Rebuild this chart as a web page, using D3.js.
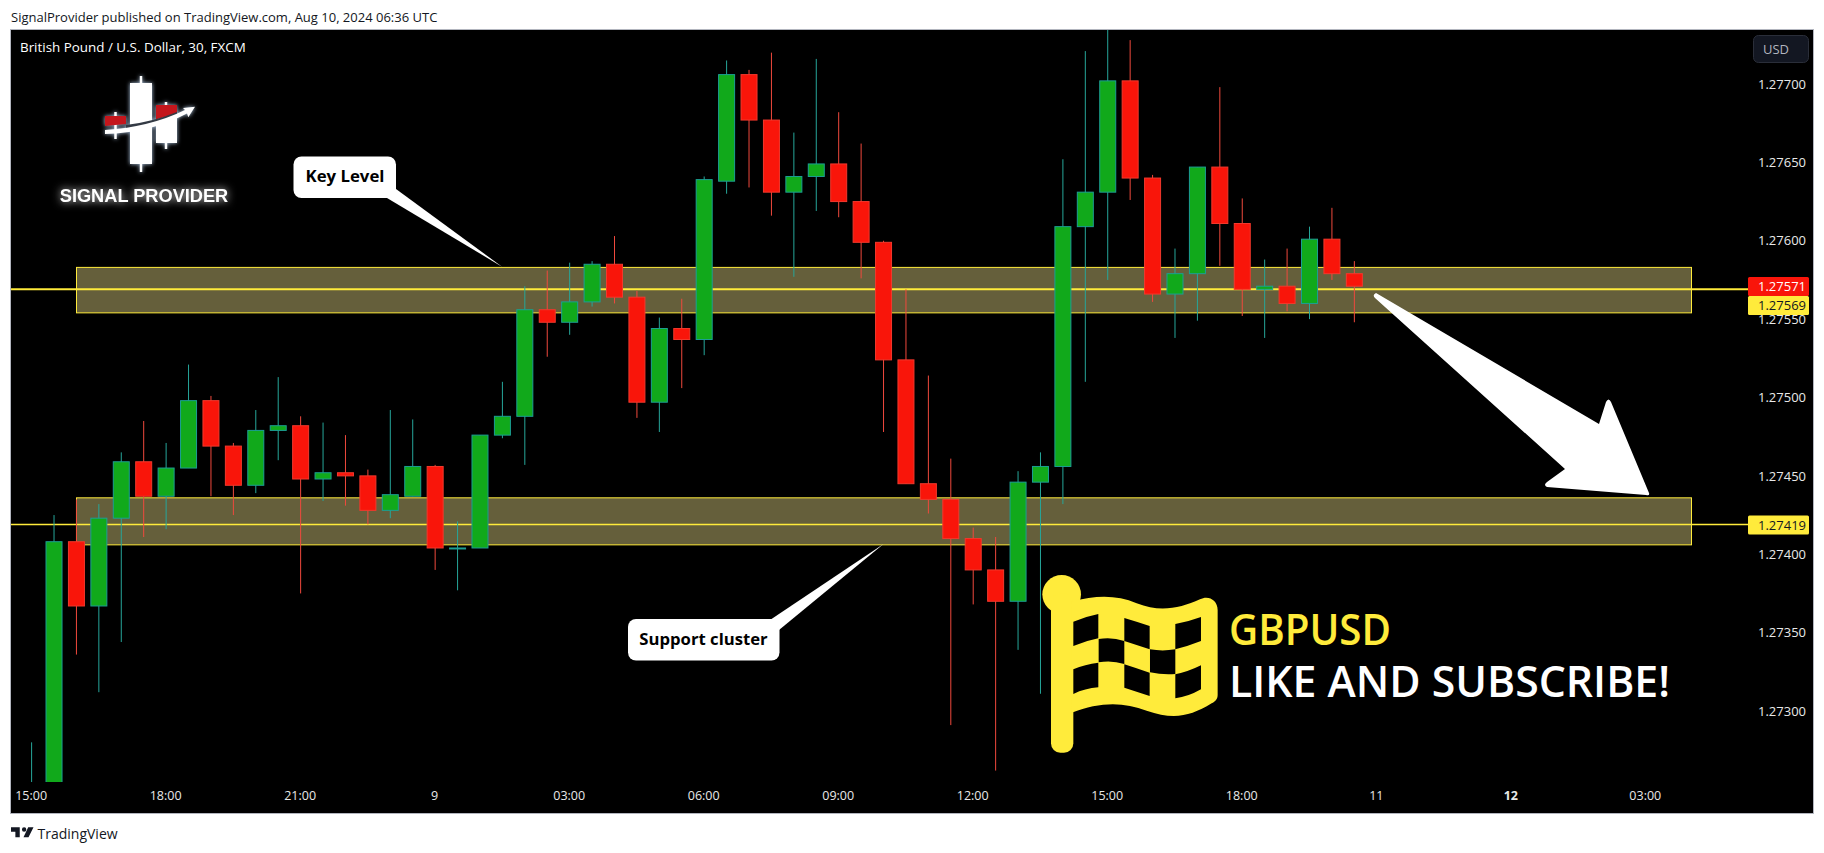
<!DOCTYPE html>
<html lang="en">
<head>
<meta charset="utf-8" />
<title>GBPUSD 30</title>
<script src="https://d3js.org/d3.v7.min.js"></script>
<style>
    html, body { margin: 0; padding: 0; background: #fff; }
    svg { display: block; }
    text { font-family: "Open Sans", sans-serif; }
</style>
</head>
<body>
<svg id="chart" width="1824" height="853"></svg>
<script>
// candles, one per 30 minutes
const opens = [1.27230,1.27250,1.27408,1.27367,1.27423,1.27459,1.27437,1.27455,1.27498,1.27469,
    1.27444,1.27479,1.27482,1.27448,1.27452,1.27450,1.27428,1.27437,1.27456,1.27404,
    1.27404,1.27476,1.27488,1.27556,1.27548,1.27561,1.27585,1.27564,1.27497,1.27544,
    1.27537,1.27638,1.27706,1.27677,1.27631,1.27641,1.27649,1.27625,1.27599,1.27524,
    1.27445,1.27435,1.27410,1.27390,1.27370,1.27446,1.27456,1.27609,1.27631,1.27702,
    1.27640,1.27566,1.27579,1.27647,1.27611,1.27569,1.27571,1.27560,1.27601,1.27579];
const closes = [1.27250,1.27408,1.27367,1.27423,1.27459,1.27437,1.27455,1.27498,1.27469,1.27444,
    1.27479,1.27482,1.27448,1.27452,1.27450,1.27428,1.27438,1.27456,1.27404,1.27404,
    1.27476,1.27488,1.27556,1.27548,1.27561,1.27585,1.27564,1.27497,1.27544,1.27537,
    1.27639,1.27706,1.27677,1.27631,1.27641,1.27649,1.27625,1.27599,1.27524,1.27445,
    1.27435,1.27410,1.27390,1.27370,1.27446,1.27456,1.27609,1.27631,1.27702,1.27640,
    1.27566,1.27579,1.27647,1.27611,1.27569,1.27571,1.27560,1.27601,1.27579,1.27571];
const highs = [1.27280,1.27425,1.27435,1.27432,1.27465,1.27485,1.27471,1.27521,1.27501,1.27471,
    1.27492,1.27513,1.27488,1.27484,1.27476,1.27454,1.27492,1.27486,1.27457,1.27421,
    1.27476,1.27510,1.27571,1.27581,1.27586,1.27587,1.27603,1.27568,1.27551,1.27563,
    1.27641,1.27715,1.27709,1.27720,1.27669,1.27716,1.27682,1.27662,1.27600,1.27569,
    1.27514,1.27461,1.27417,1.27411,1.27453,1.27465,1.27652,1.27721,1.27740,1.27728,
    1.27642,1.27595,1.27647,1.27698,1.27627,1.27588,1.27595,1.27609,1.27621,1.27587];
const lows = [1.27220,1.27240,1.27336,1.27312,1.27344,1.27411,1.27416,1.27455,1.27437,1.27425,
    1.27439,1.27460,1.27375,1.27434,1.27431,1.27419,1.27423,1.27437,1.27390,1.27377,
    1.27404,1.27474,1.27457,1.27526,1.27540,1.27558,1.27560,1.27487,1.27478,1.27506,
    1.27527,1.27630,1.27634,1.27616,1.27577,1.27619,1.27615,1.27576,1.27478,1.27445,
    1.27426,1.27291,1.27368,1.27262,1.27339,1.27311,1.27432,1.27510,1.27575,1.27626,
    1.27561,1.27538,1.27549,1.27584,1.27552,1.27538,1.27555,1.27550,1.27575,1.27548];

const priceTicks = [1.27700,1.27650,1.27600,1.27550,1.27500,1.27450,1.27400,1.27350,1.27300];
const timeTicks = [0,6,12,18,24,30,36,42,48,54,60,66,72];
const timeLabels = ["15:00","18:00","21:00","9","03:00","06:00","09:00","12:00","15:00","18:00","11","12","03:00"];

// zones and levels drawn on the chart
const zoneTops = [1.27583,1.27436];
const zoneBottoms = [1.27554,1.27406];
const levelPrices = [1.27569,1.27419];
const lastPrice = 1.27571;

const svg = d3.select("#chart");
const plot = { left: 11, right: 1748, top: 30, bottom: 782, frameRight: 1813, frameBottom: 813 };

const x = d3.scaleLinear().domain([0, 72]).range([31.6, 1645.8]);
const y = d3.scaleLinear().domain([1.273, 1.277]).range([711, 84]);
const bodyW = 16;
const GREEN = "#11a91b", GREEN_EDGE = "#1c9e94", GREEN_WICK = "#26a69a";
const RED = "#f9150a", RED_EDGE = "#f2392d", RED_WICK = "#f0493d";
const YELLOW = "#ffeb3b";

// frame
svg.append("rect")
    .attr("x", plot.left - 0.5).attr("y", plot.top - 0.5)
    .attr("width", plot.frameRight - plot.left + 1).attr("height", plot.frameBottom - plot.top + 1)
    .attr("fill", "#000").attr("stroke", "#b2b5be");

svg.append("text").attr("x", 11).attr("y", 22)
    .attr("font-size", 13).attr("fill", "#131722")
    .text("SignalProvider published on TradingView.com, Aug 10, 2024 06:36 UTC");

svg.append("defs").append("clipPath").attr("id", "plotClip").append("rect")
    .attr("x", plot.left).attr("y", plot.top)
    .attr("width", plot.right - plot.left).attr("height", plot.bottom - plot.top);

const chart = svg.append("g").attr("clip-path", "url(#plotClip)");

// level lines under the zones
chart.selectAll(".level").data(levelPrices).join("line")
    .attr("class", "level")
    .attr("x1", plot.left).attr("x2", plot.right)
    .attr("y1", d => y(d)).attr("y2", d => y(d))
    .attr("stroke", YELLOW).attr("stroke-width", (d, i) => i ? 1.5 : 2);

chart.selectAll(".zone").data(zoneTops).join("rect")
    .attr("class", "zone")
    .attr("x", 76.5).attr("width", 1615)
    .attr("y", d => y(d))
    .attr("height", (d, i) => y(zoneBottoms[i]) - y(d))
    .attr("fill", "#655f3b").attr("stroke", YELLOW).attr("stroke-width", 1);

chart.selectAll(".levelOver").data(levelPrices).join("line")
    .attr("class", "levelOver")
    .attr("x1", 76).attr("x2", 1692)
    .attr("y1", d => y(d)).attr("y2", d => y(d))
    .attr("stroke", YELLOW).attr("stroke-width", (d, i) => i ? 1.5 : 2);

// candles
const bars = opens.map((o, i) => ({ i, o, c: closes[i], h: highs[i], l: lows[i], up: closes[i] >= o }));
const candle = chart.selectAll(".candle").data(bars).join("g").attr("class", "candle");

candle.append("line")
    .attr("x1", d => x(d.i)).attr("x2", d => x(d.i))
    .attr("y1", d => y(d.h)).attr("y2", d => y(d.l))
    .attr("stroke", d => d.up ? GREEN_WICK : RED_WICK).attr("stroke-width", 1);

candle.append("rect")
    .attr("x", d => x(d.i) - bodyW / 2).attr("width", bodyW)
    .attr("y", d => y(Math.max(d.o, d.c)))
    .attr("height", d => Math.max(1, Math.abs(y(d.o) - y(d.c))))
    .attr("fill", d => d.up ? GREEN : RED)
    .attr("stroke", d => d.up ? GREEN_EDGE : RED_EDGE).attr("stroke-width", 1);

// axes
const xAxis = d3.axisBottom(x).tickValues(timeTicks).tickSize(0).tickPadding(0)
    .tickFormat((d, i) => timeLabels[i]);
const xG = svg.append("g").attr("transform", `translate(-1,${plot.bottom + 9})`).call(xAxis);
xG.select(".domain").remove();
xG.selectAll("text").attr("font-family", '"Open Sans", sans-serif').attr("font-size", 12.5)
    .attr("fill", "#e8e8e8")
    .attr("font-weight", (d, i) => timeLabels[i] === "12" ? 700 : 400);

const yAxis = d3.axisRight(y).tickValues(priceTicks).tickSize(0).tickPadding(0)
    .tickFormat(d3.format(".5f"));
const yG = svg.append("g").attr("transform", `translate(1758,0)`).call(yAxis);
yG.select(".domain").remove();
yG.selectAll("text").attr("font-family", '"Open Sans", sans-serif').attr("font-size", 13)
    .attr("fill", "#e8e8e8");

// price labels on the axis
const tags = [
    { fill: RED, ink: "#fff", text: d3.format(".5f")(lastPrice), cy: 286.6 },
    { fill: YELLOW, ink: "#131722", text: d3.format(".5f")(levelPrices[0]), cy: 305.6 },
    { fill: YELLOW, ink: "#131722", text: d3.format(".5f")(levelPrices[1]), cy: y(levelPrices[1]) + 0.5 }
];
const tag = svg.selectAll(".tag").data(tags).join("g").attr("class", "tag")
    .attr("transform", d => `translate(1748,${d.cy})`);
tag.append("rect").attr("x", 0).attr("y", -9.5).attr("width", 61).attr("height", 19).attr("rx", 1.5)
    .attr("fill", d => d.fill);
tag.append("text").attr("x", 10).attr("dy", "0.36em").attr("font-size", 13)
    .attr("fill", d => d.ink).text(d => d.text);

// currency badge
svg.append("rect").attr("x", 1753.5).attr("y", 35.5).attr("width", 55).attr("height", 27).attr("rx", 5)
    .attr("fill", "#131722").attr("stroke", "#2a2e39");
svg.append("text").attr("x", 1763).attr("y", 54).attr("font-size", 13).attr("fill", "#b2b5be").text("USD");

svg.append("text").attr("x", 20).attr("y", 52).attr("font-size", 13.4).attr("fill", "#fff")
    .text("British Pound / U.S. Dollar, 30, FXCM");

// logo
const logo = svg.append("g").style("filter", "drop-shadow(0 0 2px rgba(200,225,255,0.9))");
logo.selectAll(".logoWick").data([[141, 76, 172], [166, 102, 149], [115.5, 112, 139]]).join("line")
    .attr("x1", d => d[0]).attr("x2", d => d[0]).attr("y1", d => d[1]).attr("y2", d => d[2])
    .attr("stroke", "#fff").attr("stroke-width", 2.5);
logo.append("rect").attr("x", 130).attr("y", 83).attr("width", 22).attr("height", 81).attr("fill", "#fff");
logo.append("path").attr("d", "M156 118L177 113V143H156Z").attr("fill", "#fff");
logo.append("path").attr("d", "M156 105H177V113Q166 117 156 119.5Z").attr("fill", "#c4161c");
logo.append("path").attr("d", "M105 116H126V124Q115 125 105 126Z").attr("fill", "#c4161c");
logo.append("path").attr("d", "M126 125Q152 122 177 112L177 116Q152 127 126 130Z").attr("fill", "#333a44");
logo.append("path").attr("d", "M105 130Q150 127 185 110L183 108L195 106.7L188.3 117.3L187 113.5Q150 133 105 134Z").attr("fill", "#fff");
svg.append("text").attr("x", 144).attr("y", 202).attr("text-anchor", "middle")
    .style("font-family", '"Liberation Sans", sans-serif').attr("font-weight", 700).attr("font-size", 18.2)
    .attr("fill", "#fff").style("filter", "drop-shadow(0 0 4px rgba(255,255,255,0.9))")
    .text("SIGNAL PROVIDER");

// callouts
svg.append("path").attr("d", "M396 189L502 266.7L387 198Z").attr("fill", "#fff");
svg.append("rect").attr("x", 293.5).attr("y", 156.5).attr("width", 102.5).attr("height", 41.5).attr("rx", 8).attr("fill", "#fff");
svg.append("text").attr("x", 345).attr("y", 182).attr("text-anchor", "middle")
    .attr("font-size", 16.8).attr("font-weight", 700).attr("fill", "#000").text("Key Level");

svg.append("path").attr("d", "M770 620L883.5 544L779 630Z").attr("fill", "#fff");
svg.append("rect").attr("x", 628).attr("y", 619).attr("width", 151.5).attr("height", 41.5).attr("rx", 8).attr("fill", "#fff");
svg.append("text").attr("x", 703.5).attr("y", 645).attr("text-anchor", "middle")
    .attr("font-size", 16.7).attr("font-weight", 700).attr("fill", "#000").text("Support cluster");

// big arrow
svg.append("path")
    .attr("d", "M1376 293L1599 424L1606 402Q1608.5 397 1611 402L1649 493Q1650 496 1646 495L1547 487Q1543 485 1547 482L1565 469L1375 298Q1372 295 1376 293Z")
    .attr("fill", "#fff");

// checkered flag, drawn in 3x units of the crop
const flag = svg.append("g").attr("transform", "translate(1030,560) scale(0.3333)");
flag.append("circle").attr("cx", 95).attr("cy", 103).attr("r", 58).attr("fill", YELLOW);
flag.append("rect").attr("x", 63).attr("y", 100).attr("width", 67).attr("height", 478).attr("rx", 28).attr("fill", YELLOW);
flag.append("path")
    .attr("d", "M125 125C200 105 260 105 320 130C390 158 450 145 510 118C535 105 563 120 563 150L563 405C563 418 555 425 545 430C480 470 430 480 350 452C280 425 210 425 125 458Z")
    .attr("fill", YELLOW);
const holes = [
    "M130 185Q165 170 205 162L205 235Q165 243 130 258Z",
    "M283 174Q320 185 359 198L359 268Q320 255 283 243Z",
    "M436 192Q475 185 513 171L513 243Q475 258 436 268Z",
    "M206 237Q245 230 283 243L283 312Q245 300 206 307Z",
    "M360 268Q398 275 436 268L436 342Q398 345 360 337Z",
    "M130 328Q165 313 205 308L205 382Q165 385 130 402Z",
    "M283 313Q320 325 359 338L359 408Q320 395 283 383Z",
    "M436 343Q475 335 513 316L513 388Q475 410 436 415Z"
];
flag.selectAll(".hole").data(holes).join("path").attr("class", "hole").attr("d", d => d).attr("fill", "#000");

svg.append("text").attr("x", 1229).attr("y", 645).attr("font-size", 44).attr("font-weight", 600)
    .attr("textLength", 162).attr("lengthAdjust", "spacingAndGlyphs")
    .attr("fill", YELLOW).text("GBPUSD");
svg.append("text").attr("x", 1229).attr("y", 696.5).attr("font-size", 44).attr("font-weight", 600)
    .attr("textLength", 441).attr("lengthAdjust", "spacingAndGlyphs")
    .attr("fill", "#fff").text("LIKE AND SUBSCRIBE!");

// footer
svg.append("path").attr("transform", "translate(11,823.5) scale(0.625)")
    .attr("d", "M14 6H0v7h7v9h7V6zm14 16h-8l7.5-16H36l-8 16zM21 13a3.5 3.5 0 1 0 0-7 3.5 3.5 0 0 0 0 7z")
    .attr("fill", "#131722");
svg.append("text").attr("x", 37.5).attr("y", 839).attr("font-size", 14).attr("fill", "#131722").text("TradingView");
</script>
</body>
</html>
